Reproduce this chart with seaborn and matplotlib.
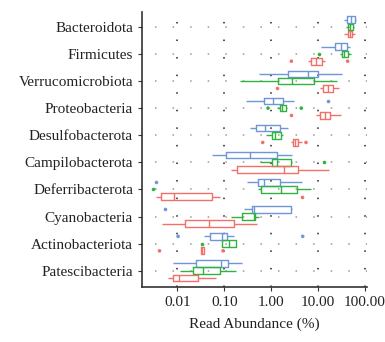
import numpy as np
import pandas as pd
import seaborn as sns
import matplotlib
matplotlib.use("Agg")
import matplotlib.pyplot as plt

# ---------------- data ----------------
phyla = ["Bacteroidota", "Firmicutes", "Verrucomicrobiota", "Proteobacteria",
         "Desulfobacterota", "Campilobacterota", "Deferribacterota",
         "Cyanobacteria", "Actinobacteriota", "Patescibacteria"]
groups = ["Group 1", "Group 2", "Group 3"]
colors = ["#6F96D8", "#2EB33F", "#F2706A"]

# five-number summaries per phylum: [whisker low, Q1, median, Q3, whisker high] (%)
group1_stats = [
    [36.8, 41.3, 51.1, 63.2, 66.4],
    [11.9, 22.9, 30.7, 42.0, 48.6],
    [0.545, 2.31, 6.07, 10.1, 32.8],
    [0.297, 0.709, 1.10, 1.80, 3.10],
    [0.362, 0.478, 0.732, 1.53, 2.31],
    [0.054, 0.108, 0.356, 1.34, 2.81],
    [0.307, 0.527, 0.697, 1.58, 4.52],
    [0.261, 0.399, 0.426, 2.67, 2.81],
    [0.0377, 0.0499, 0.0885, 0.113, 0.160],
    [0.00794, 0.0246, 0.0842, 0.119, 0.244],
]
group2_stats = [
    [40.6, 43.4, 48.6, 55.4, 59.2],
    [30.2, 32.3, 36.8, 43.4, 51.1],
    [0.221, 1.41, 2.81, 8.42, 25.7],
    [1.34, 1.53, 1.69, 2.09, 2.20],
    [0.782, 1.05, 1.22, 1.61, 1.80],
    [0.573, 1.05, 1.32, 2.63, 2.76],
    [0.519, 0.601, 1.66, 3.59, 7.15],
    [0.138, 0.244, 0.426, 0.463, 0.545],
    [0.0885, 0.0914, 0.129, 0.176, 0.182],
    [0.0116, 0.0216, 0.0348, 0.0802, 0.182],
]
group3_stats = [
    [35.6, 43.4, 47.8, 52.8, 63.2],
    [6.17, 7.03, 9.29, 12.3, 14.0],
    [11.3, 12.9, 16.5, 21.1, 28.3],
    [9.14, 10.9, 14.2, 18.5, 30.7],
    [2.67, 2.90, 3.31, 3.83, 4.52],
    [0.142, 0.191, 1.86, 3.77, 17.3],
    [0.00356, 0.00448, 0.00863, 0.0550, 0.0802],
    [0.00471, 0.0143, 0.0474, 0.160, 0.502],
    [0.0315, 0.0320, 0.0342, 0.0371, 0.0377],
    [0.00622, 0.00808, 0.0110, 0.0276, 0.0680],
]

# outliers: (phylum, value)
group1_outliers = [("Proteobacteria", 16.2), ("Deferribacterota", 0.0035),
                   ("Cyanobacteria", 0.00537), ("Actinobacteriota", 0.0103),
                   ("Actinobacteriota", 4.75)]
group2_outliers = [("Firmicutes", 10.8), ("Proteobacteria", 0.863),
                   ("Proteobacteria", 4.44), ("Campilobacterota", 13.3),
                   ("Deferribacterota", 0.0030), ("Actinobacteriota", 0.0331)]
group3_outliers = [("Firmicutes", 2.72), ("Firmicutes", 43.4),
                   ("Verrucomicrobiota", 1.34), ("Proteobacteria", 2.72),
                   ("Desulfobacterota", 0.664), ("Desulfobacterota", 5.59),
                   ("Deferribacterota", 4.52), ("Actinobacteriota", 0.00413),
                   ("Actinobacteriota", 0.0944)]

xticks = [0.01, 0.1, 1, 10, 100]
xticklabels = ["0.01", "0.10", "1.00", "10.00", "100.00"]

# ---------------- build tables ----------------
rows = []
for g, stats in zip(groups, [group1_stats, group2_stats, group3_stats]):
    for p, s in zip(phyla, stats):
        for v in s:
            rows.append({"Phylum": p, "Group": g, "Abundance": v})
box_df = pd.DataFrame(rows)

orows = []
for g, outs in zip(groups, [group1_outliers, group2_outliers, group3_outliers]):
    for p, v in outs:
        orows.append({"Phylum": p, "Group": g, "Abundance": v})
out_df = pd.DataFrame(orows)

# ---------------- plot ----------------
sns.set_style("white")
plt.rcParams["font.family"] = ["Liberation Serif", "DejaVu Serif"]

fig = plt.figure(figsize=(3.85, 3.42), dpi=100)
ax = fig.add_axes([0.369, 0.161, 0.583, 0.804])

palette = dict(zip(groups, colors))
sns.boxplot(data=box_df, x="Abundance", y="Phylum", hue="Group",
            order=phyla, hue_order=groups, palette=palette,
            fill=False, width=0.8, gap=0.08, whis=(0, 100),
            showcaps=False, linewidth=1.0, log_scale=True,
            legend=False, ax=ax)
sns.stripplot(data=out_df, x="Abundance", y="Phylum", hue="Group",
              order=phyla, hue_order=groups, palette=palette,
              dodge=True, jitter=False, size=2.6, linewidth=0,
              log_scale=True, legend=False, ax=ax)

ax.set_xlim(0.00175, 110)
ax.set_ylim(9.6, -0.55)
ax.set_xticks(xticks)
ax.set_xticklabels(xticklabels)
ax.xaxis.set_minor_locator(matplotlib.ticker.NullLocator())

for x in xticks:
    ax.axvline(x, color="#222222", lw=1.1, ls=(0, (1, 10.5)), zorder=0)
for i in range(len(phyla)):
    ax.axhline(i, color="#9a9a9a", lw=1.1, ls=(3, (1, 10.5)), zorder=0)

for side in ["top", "right"]:
    ax.spines[side].set_visible(False)
for side in ["left", "bottom"]:
    ax.spines[side].set_color("#333333")
    ax.spines[side].set_linewidth(1.2)

ax.tick_params(axis="both", which="major", length=3, width=0.8,
               color="#333333", labelsize=11, labelcolor="#222222",
               bottom=True, left=True)
ax.set_ylabel("")
ax.set_xlabel("Read Abundance (%)", fontsize=11, color="#222222", labelpad=6)

fig.savefig("out.png", dpi=100)
